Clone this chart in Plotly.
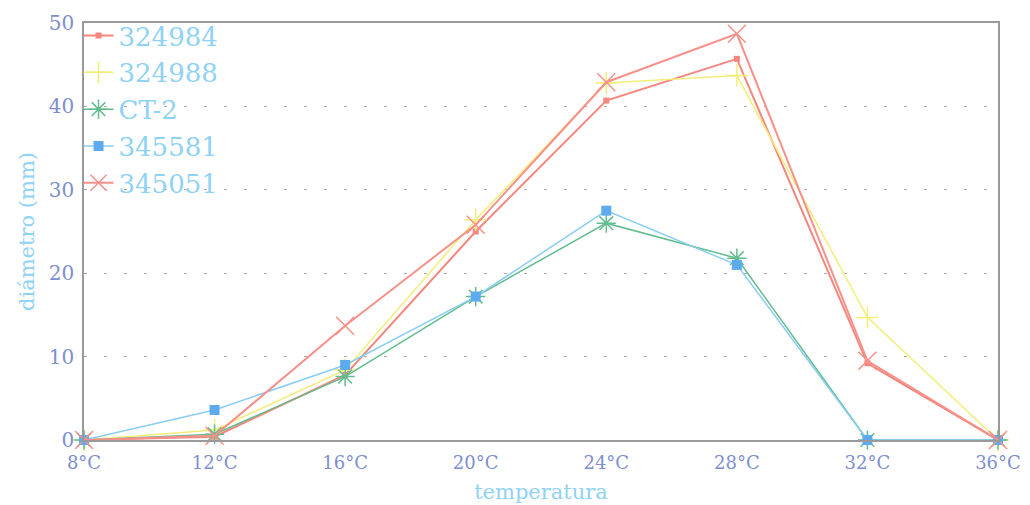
import plotly.graph_objects as go

temps = [8, 12, 16, 20, 24, 28, 32, 36]
tick_labels = ["8°C", "12°C", "16°C", "20°C", "24°C", "28°C", "32°C", "36°C"]

s324984 = [0, 0.4, 7.8, 25.0, 40.7, 45.7, 9.2, 0]
s324988 = [0, 1.2, 8.4, 26.4, 42.8, 43.7, 14.7, 0]
sCT2 = [0, 0.7, 7.6, 17.2, 26.0, 21.8, 0, 0]
s345581 = [0, 3.6, 9.0, 17.2, 27.5, 21.0, 0, 0]
s345051 = [0, 0.5, 13.7, 25.8, 42.9, 48.7, 9.5, 0]

fig = go.Figure()

def add(name, y, lcolor, lwidth, symbol, msize, mcolor, mline=1.5):
    fig.add_trace(go.Scatter(
        x=temps, y=y, name=name, mode="lines+markers",
        line=dict(color=lcolor, width=lwidth),
        marker=dict(symbol=symbol, size=msize, color=mcolor,
                    line=dict(color=mcolor, width=mline)),
        cliponaxis=False,
    ))

add("324984", s324984, "#F4867E", 2, "square", 6, "#F4867E", 0)
add("324988", s324988, "#F3EE7A", 1.5, "cross-thin", 16, "#F3EE7A", 1.5)
add("CT-2", sCT2, "#62BC8E", 1.5, "asterisk", 16, "#62BC8E", 1.5)
add("345581", s345581, "#8ACDF2", 1.5, "square", 10, "#5EAAEE", 0)
add("345051", s345051, "#F6918A", 2, "x-thin", 18, "#F6918A", 1.5)

fig.update_layout(
    width=1030, height=505,
    margin=dict(l=84, r=32, t=23, b=65),
    paper_bgcolor="white", plot_bgcolor="white",
    font=dict(family="DejaVu Serif", color="#7E8ECF"),
    legend=dict(x=-0.006, y=1.026, xanchor="left", yanchor="top",
                bgcolor="rgba(0,0,0,0)",
                font=dict(size=26, color="#8FD2F4", family="DejaVu Serif"),
                itemwidth=30),
    showlegend=True,
)
fig.update_xaxes(
    range=[8, 36], tickvals=temps, ticktext=tick_labels,
    tickfont=dict(size=18, color="#7E8ECF"),
    ticklabelstandoff=6, automargin=False,
    showgrid=False, zeroline=False,
    showline=True, linecolor="#9a9a9a", linewidth=1.5, mirror=True,
    ticks="", title=dict(text="temperatura", font=dict(size=21, color="#8FD2F4"), standoff=12),
)
fig.update_yaxes(
    range=[0, 50], tickvals=[0, 10, 20, 30, 40, 50],
    tickfont=dict(size=20, color="#7E8ECF"),
    ticklabelstandoff=4, automargin=False,
    showgrid=True, gridcolor="#AAAAAA", gridwidth=1, griddash="3px,17px",
    zeroline=False,
    showline=True, linecolor="#9a9a9a", linewidth=1.5, mirror=True,
    ticks="", title=dict(text="diámetro (mm)", font=dict(size=21, color="#8FD2F4"), standoff=8),
)

fig.write_html("out.html")
